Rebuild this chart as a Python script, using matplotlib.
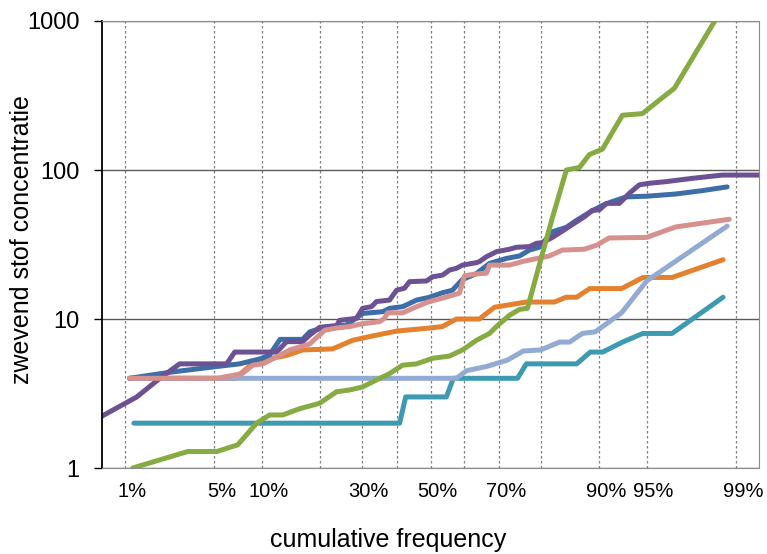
from statistics import NormalDist

import numpy as np
import matplotlib
matplotlib.use("Agg")
import matplotlib.pyplot as plt
from matplotlib.ticker import NullLocator
from matplotlib.transforms import ScaledTranslation

plt.rcParams["font.family"] = ["Liberation Sans", "DejaVu Sans"]

# cumulative frequency (%) and concentration
teal_freq = [1.2, 40.7, 42.5, 54.8, 56.9, 74.6, 76.7, 86.7, 88.8, 90.5, 92.8, 94.7, 96.7, 98.7]
teal_vals = [2, 2, 3, 3, 4, 4, 5, 5, 6, 6, 7, 8, 8, 14]

lightblue_freq = [1.1, 57.8, 60.8, 66.5, 72.1, 76.0, 79.9, 83.7, 85.5, 87.6, 89.5, 92.7, 95.0, 98.8]
lightblue_vals = [4, 4, 4.5, 4.8, 5.3, 6.1, 6.2, 7, 7, 8, 8.2, 11, 18, 42]

orange_freq = [1.1, 6.9, 8.7, 9.9, 11.8, 13.7, 16.5, 22.8, 27.7, 33.0, 39.8, 49.7, 53.6,
               57.8, 64.5, 68.7, 76.7, 82.7, 84.9, 86.7, 88.7, 92.7, 94.7, 96.7, 98.7]
orange_vals = [4, 4, 5, 5.2, 5.5, 5.7, 6.2, 6.3, 7.2, 7.7, 8.3, 8.7, 8.9,
               10, 10, 12, 13, 13, 14, 14, 16, 16, 19, 19, 25]

pink_freq = [1.1, 5.2, 7.6, 8.8, 10.1, 11.5, 14.2, 17.9, 21.0, 23.7, 26.9, 30.3, 34.9, 36.3,
             37.2, 41.6, 45.8, 49.7, 53.6, 58.7, 60.2, 63.1, 66.5, 67.3, 72.6, 75.8, 78.1,
             81.7, 84.2, 87.9, 89.7, 91.3, 95.0, 96.9, 98.85]
pink_vals = [4, 4, 4.3, 4.9, 5, 5.4, 6.2, 6.8, 8.4, 8.7, 8.9, 9.3, 9.6, 10.1,
             11, 11, 12.1, 13.1, 13.8, 14.9, 19.5, 20, 20.3, 23, 23, 24.3, 25.1,
             26.5, 29, 29.4, 31.3, 35, 35.3, 41.5, 46.7]

blue_freq = [1.1, 2.4, 5.2, 7.3, 9.7, 11.0, 12.6, 16.5, 17.9, 21.5, 26.1, 30.3, 35.8, 37.8,
             41.6, 45.8, 49.7, 53.6, 56.6, 59.6, 63.7, 67.3, 71.8, 75.1, 77.4, 79.6, 82.3,
             84.9, 86.7, 88.7, 90.5, 91.7, 93.2, 95.0, 96.9, 98.0, 98.8]
blue_vals = [4, 4.4, 4.8, 5.0, 5.4, 5.7, 7.3, 7.3, 8.2, 8.9, 9.1, 10.9, 11.2, 11.8,
             12.1, 13.4, 14, 15, 15.6, 18.4, 20.2, 23.6, 25.5, 26.5, 29, 30.3, 38.5,
             41.2, 46, 52, 58, 61.5, 66, 66.7, 69, 72.4, 77]

purple_freq = [0.6, 1.27, 1.97, 2.81, 6.04, 6.81, 12.08, 13.68, 16.52, 17.88, 19.93, 23.73,
               24.45, 28.67, 30.26, 32.67, 34.05, 37.76, 39.80, 42.15, 43.65, 48.80, 50.61,
               53.64, 55.74, 57.84, 59.61, 63.68, 64.53, 66.49, 69.21, 72.60, 74.35, 77.42,
               78.99, 80.28, 82.33, 84.94, 86.66, 87.92, 89.10, 90.06, 90.96, 92.47, 93.49,
               94.40, 95.21, 96.37, 97.68, 98.68, 99.38]
purple_vals = [2.2, 3.0, 4.0, 5.0, 5.0, 6.0, 6.0, 7.05, 7.05, 7.8, 8.8, 9.0,
               9.8, 10.1, 11.8, 12.1, 13.1, 13.4, 15.6, 16.1, 17.8, 18, 19.2,
               19.7, 21.3, 21.9, 23, 23.9, 24.3, 26.2, 28.3, 29.4, 30.3, 30.6,
               32.2, 32.6, 35.3, 40.5, 44.9, 48.5, 53.7, 54, 59.7, 59.7, 69.8,
               79.5, 81.5, 83.6, 87.9, 92.5, 92.5]

green_freq = [1.17, 3.23, 5.19, 7.11, 9.29, 11.04, 13.03, 15.96, 19.93, 23.73, 26.90, 30.26,
              34.05, 37.76, 41.57, 45.76, 50.61, 55.74, 59.61, 63.68, 67.32, 69.21, 72.60,
              75.07, 76.96, 80.07, 82.33, 84.94, 87.14, 88.67, 90.46, 92.79, 94.65, 96.83, 98.73]
green_vals = [1.0, 1.29, 1.29, 1.43, 2.0, 2.27, 2.27, 2.5, 2.72, 3.25, 3.34, 3.5,
              3.9, 4.3, 4.9, 5.0, 5.45, 5.64, 6.2, 7.2, 8.0, 8.9, 10.6,
              11.6, 11.8, 26, 48, 100, 104, 127, 138, 233, 239, 354, 1275]

freq_ticks = [1, 5, 10, 20, 30, 40, 50, 60, 70, 80, 90, 95, 99]
freq_labels = ["1%", "5%", "10%", "", "30%", "", "50%", "", "70%", "", "90%", "95%", "99%"]
conc_ticks = [1, 10, 100, 1000]

_nd = NormalDist()
_ppf = np.vectorize(_nd.inv_cdf, otypes=[float])
_cdf = np.vectorize(_nd.cdf, otypes=[float])


def prob_forward(p):
    p = np.clip(np.asarray(p, dtype=float) / 100.0, 1e-6, 1 - 1e-6)
    return _ppf(p)


def prob_inverse(z):
    return _cdf(np.asarray(z, dtype=float)) * 100.0


fig = plt.figure(figsize=(7.67, 5.54), dpi=100)
ax = fig.add_axes([0.1330, 0.1552, 0.8566, 0.8069])

series = [
    (teal_freq, teal_vals, "#3d9ab0"),
    (orange_freq, orange_vals, "#e3812f"),
    (lightblue_freq, lightblue_vals, "#93aad3"),
    (blue_freq, blue_vals, "#3d6ea8"),
    (purple_freq, purple_vals, "#6c5193"),
    (pink_freq, pink_vals, "#d6918f"),
    (green_freq, green_vals, "#87ab43"),
]
for fx, fy, col in series:
    ax.plot(fx, fy, color=col, lw=3.6, solid_capstyle="round", solid_joinstyle="round")

ax.set_xscale("function", functions=(prob_forward, prob_inverse))
ax.set_xlim(prob_inverse(-2.5), prob_inverse(2.5))
ax.set_xticks(freq_ticks)
ax.set_xticklabels(freq_labels, fontsize=14.5)
ax.xaxis.set_minor_locator(NullLocator())
ax.tick_params(axis="x", length=0, pad=10)
for lab in ax.get_xticklabels():
    lab.set_transform(lab.get_transform() + ScaledTranslation(0.07, 0, fig.dpi_scale_trans))

ax.set_yscale("log")
ax.set_ylim(1, 1000)
ax.set_yticks(conc_ticks)
ax.set_yticklabels([str(t) for t in conc_ticks], fontsize=17)
ax.yaxis.set_minor_locator(NullLocator())
ax.tick_params(axis="y", direction="out", length=6, width=1, pad=10)

ax.set_axisbelow(True)
ax.xaxis.grid(True, color="#7f7f7f", ls=(0, (2, 2)), lw=0.9)
ax.yaxis.grid(True, color="#5a5a5a", ls="-", lw=1.0)

for side in ["top", "right", "bottom"]:
    ax.spines[side].set_color("#8c8c8c")
ax.spines["left"].set_color("black")
ax.spines["left"].set_linewidth(1.3)

ax.set_xlabel("cumulative frequency", fontsize=18)
ax.xaxis.set_label_coords((388 - 102) / 657, -0.135)
ax.set_ylabel("zwevend stof concentratie", fontsize=18)
ax.yaxis.set_label_coords(-0.104, 0.51)

fig.savefig("out.png", dpi=100)
